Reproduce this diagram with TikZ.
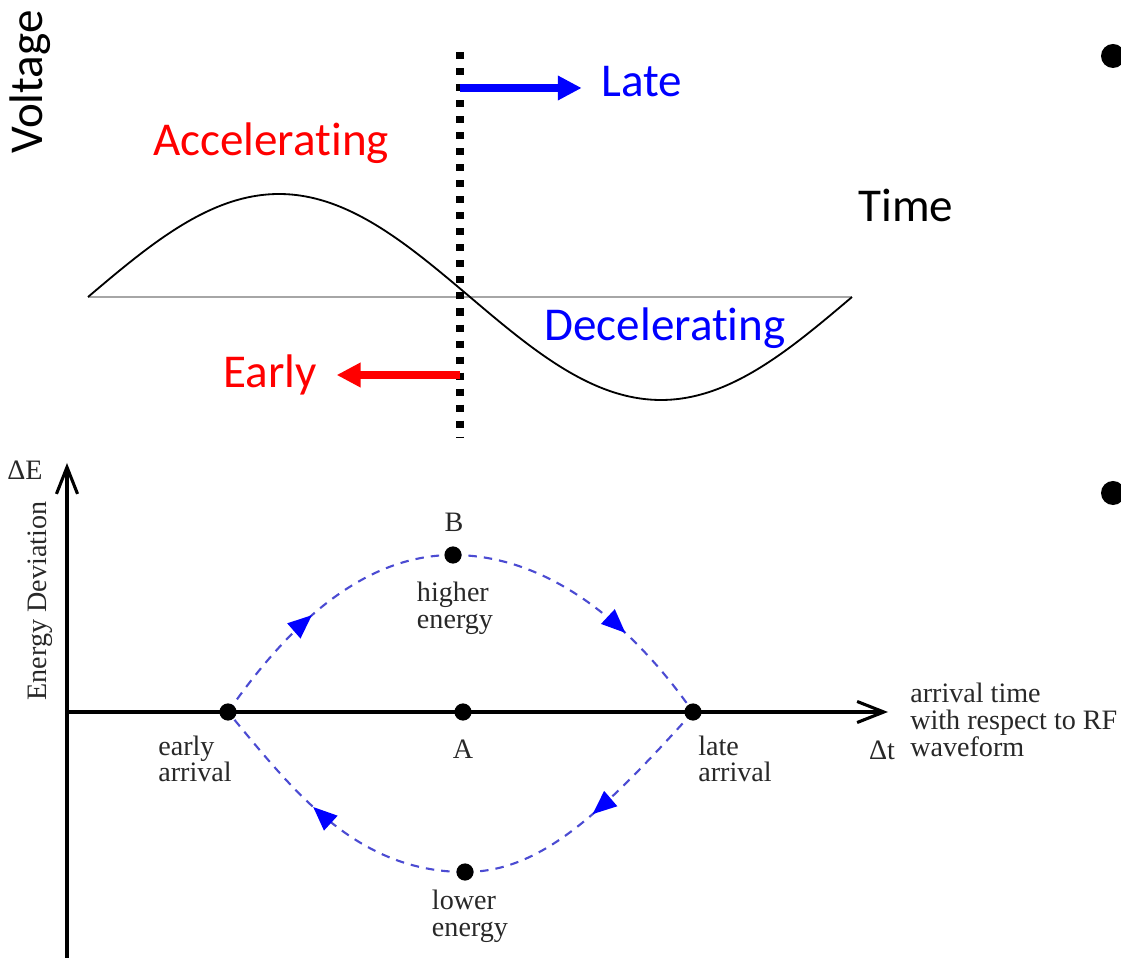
\documentclass[tikz,border=0pt]{standalone}
\usepackage{fontspec}
\setmainfont{Liberation Serif}
\newfontfamily\calibri[Ligatures=NoCommon]{Carlito}
\usepackage{tikz}
\usetikzlibrary{arrows.meta, decorations.markings, positioning, backgrounds}

\definecolor{orbitblue}{RGB}{75,75,210}
\definecolor{labelgray}{RGB}{40,40,40}

\tikzstyle{bigtext} = [font=\calibri\fontsize{33.5}{40}\selectfont, inner sep=0pt]
\tikzstyle{smalltext} = [font=\fontsize{20}{19}\selectfont, text=labelgray, inner sep=0pt, align=left]
\tikzstyle{wave} = [line width=1.3pt, black]
\tikzstyle{zeroline} = [line width=1.4pt, black!35]
\tikzstyle{phaseline} = [line width=5.5pt, dash pattern=on 5pt off 6.4pt]
\tikzstyle{bigarrow} = [line width=5pt, shorten >=14pt, -{Triangle[length=17pt,width=16.5pt]}]
\tikzstyle{axis} = [line width=2.2pt, -{Straight Barb[length=19pt,width=15pt]}]
\tikzstyle{dot} = [circle, fill=black, minimum size=0.43cm, inner sep=0pt]
\tikzstyle{bullet} = [circle, fill=black, minimum size=0.6cm, inner sep=0pt]
\tikzset{orbit/.style={orbitblue, line width=1.5pt, dash pattern=on 6pt off 5pt,
    postaction={decorate},
    decoration={markings, mark=at position #1 with {\arrow{Triangle[length=17pt,width=14pt,color=blue]}}}},
  orbit/.default=0.5}

\begin{document}
\begin{tikzpicture}[x=0.025cm, y=-0.025cm]
\useasboundingbox (0,0) rectangle (1121,958);

% RF waveform
\draw[zeroline] (88,297) -- (852,297);
\draw[wave] plot[domain=0:360, samples=120, smooth] ({88+\x/360*764}, {297-103*sin(\x)});
\coordinate (phaseTop) at (460,52);
\coordinate (phaseBot) at (460,437);
\draw[phaseline] (phaseTop) -- (phaseBot);

\node (voltage) [bigtext, rotate=90] at (30,82) {Voltage};
\node (accel) [bigtext, text=red] at (271,143) {Accelerating};
\node (late) [bigtext, text=blue] at (642,82) {Late};
\node (time) [bigtext] at (906,205) {Time};
\node (decel) [bigtext, text=blue] at (665,328) {Decelerating};
\node (early) [bigtext, text=red] at (270,375) {Early};

\coordinate (lateFrom) at (460,88);
\coordinate (earlyFrom) at (460,375);
\draw[bigarrow, blue] (lateFrom) -- (late.west |- lateFrom);
\draw[bigarrow, red] (earlyFrom) -- (early.east |- earlyFrom);

\node (bulletA) [bullet] at (1113,56) {};
\node (bulletB) [bullet] at (1113,493) {};

% phase space
\coordinate (eAxisBot) at (67,958);
\coordinate (eAxisTop) at (67,463);
\coordinate (tAxisLeft) at (67,712);
\coordinate (tAxisRight) at (888,712);
\draw[axis] (eAxisBot) -- (eAxisTop);
\draw[axis] (tAxisLeft) -- (tAxisRight);

\node (ptEarly) [dot] at (228,712) {};
\node (ptA) [dot] at (463,712) {};
\node (ptLate) [dot] at (693,712) {};
\node (ptB) [dot] at (453,555) {};
\node (ptLower) [dot] at (465,872) {};

\begin{pgfonlayer}{background}
\draw[orbit=0.45] (ptEarly.center) .. controls (285,630) and (360,555) .. (ptB.center);
\draw[orbit=0.65] (ptB.center) .. controls (565,555) and (650,650) .. (ptLate.center);
\draw[orbit=0.5] (ptLate.center) .. controls (600,815) and (540,872) .. (ptLower.center);
\draw[orbit=0.57] (ptLower.center) .. controls (355,872) and (292,789) .. (ptEarly.center);
\end{pgfonlayer}

\node (dE) [smalltext] at (25,470) {ΔE};
\node (energyDev) [smalltext, rotate=90] at (40,601) {Energy Deviation};
\node (lblB) [smalltext] at (454,522) {B};
\node (lblHigher) [smalltext] at (455,608) {higher\\energy};
\node (lblA) [smalltext] at (463,749) {A};
\node (lblEarly) [smalltext] at (195,759) {early\\arrival};
\node (lblLate) [smalltext] at (735,759) {late\\arrival};
\node (lblLower) [smalltext] at (470,916) {lower\\energy};
\node (dt) [smalltext] at (882,750) {Δt};
\node (lblArrival) [smalltext, anchor=west] at (910,720) {arrival time\\with respect to RF\\waveform};

\end{tikzpicture}
\end{document}
